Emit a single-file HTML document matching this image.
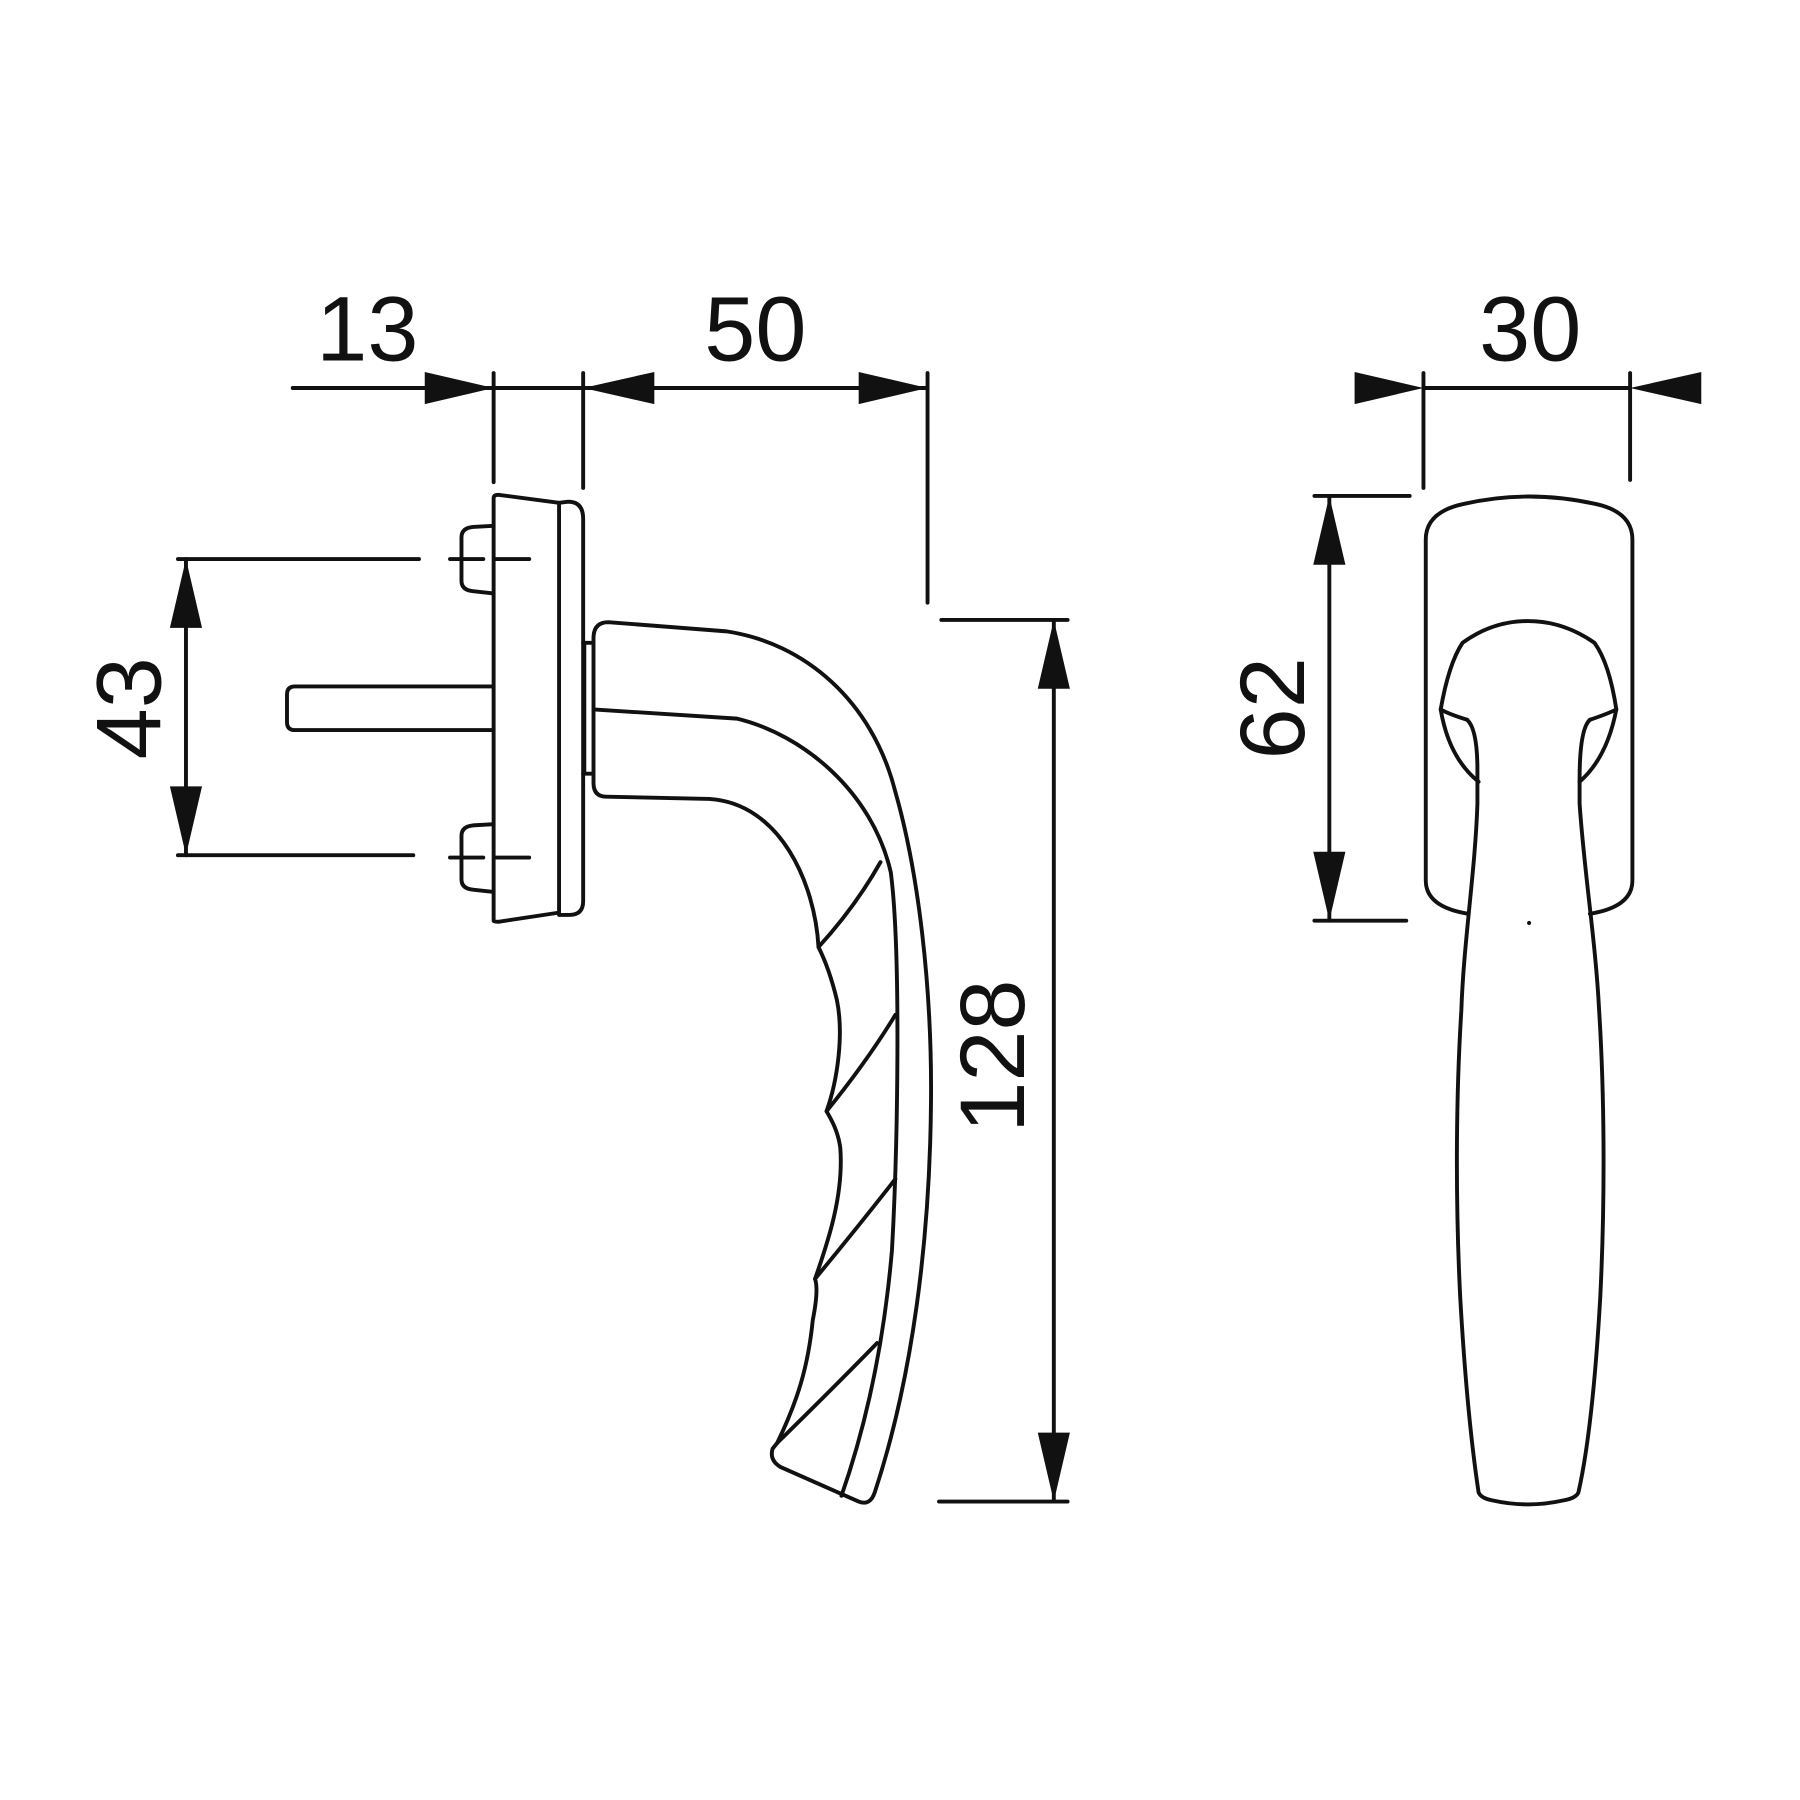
<!DOCTYPE html>
<html><head><meta charset="utf-8"><style>
html,body{margin:0;padding:0;background:#fff;}
svg{display:block;}
text{font-family:"Liberation Sans",Arial,sans-serif;font-size:80px;fill:#111;}
</style></head><body>
<svg width="1800" height="1800" viewBox="0 0 1568 1568" xmlns="http://www.w3.org/2000/svg">
<g fill="none" stroke="#111" stroke-width="3.4" stroke-linejoin="round" stroke-linecap="round">
<!-- dimension lines -->
<line x1="255" y1="338" x2="808" y2="338"/>
<line x1="430" y1="325" x2="430" y2="420"/>
<line x1="508" y1="325" x2="508" y2="425"/>
<line x1="808" y1="325" x2="808" y2="525"/>
<line x1="1240" y1="338" x2="1420" y2="338"/>
<line x1="1240" y1="325" x2="1240" y2="425"/>
<line x1="1420" y1="325" x2="1420" y2="418"/>
<line x1="162" y1="487" x2="162" y2="745"/>
<line x1="155" y1="487" x2="365" y2="487"/>
<line x1="155" y1="745" x2="360" y2="745"/>
<line x1="918" y1="540" x2="918" y2="1308"/>
<line x1="820" y1="540" x2="930" y2="540"/>
<line x1="818" y1="1308" x2="930" y2="1308"/>
<line x1="1158" y1="432" x2="1158" y2="802"/>
<line x1="1145" y1="432" x2="1228" y2="432"/>
<line x1="1145" y1="802" x2="1225" y2="802"/>

<!-- screw dashes -->
<line x1="392" y1="487" x2="421" y2="487"/>
<line x1="432" y1="487" x2="461" y2="487"/>
<line x1="392" y1="747" x2="421" y2="747"/>
<line x1="432" y1="747" x2="461" y2="747"/>

<!-- rosette left view -->
<path d="M430,802 L430,434 Q430,431 434,431 L487,438 L487,795 L434,803 Q430,803 430,802 Z"/>
<path d="M487,438 L495,437 Q508,437 508,452 L508,785 Q508,797 496,797 L487,797"/>
<!-- screws -->
<path d="M430,458 L412,459 Q402,460 402,468 L402,506 Q402,514 412,515 L430,517"/>
<path d="M430,718 L412,719 Q402,720 402,728 L402,766 Q402,774 412,775 L430,777"/>
<!-- spindle -->
<path d="M430,598 L257,598 Q250,598 250,605 L250,629 Q250,636 257,636 L430,636"/>
<!-- collar -->
<path d="M508,560 L517,560 M508,674 L517,674 M509,560 L509,674"/>
<!-- handle left view -->
<path d="M517,556 Q517,542 530,542 L633,550 C700,560 760,610 780,690 C800,760 812,860 811,960 C810,1080 795,1200 762,1300 Q758,1312 748,1308 L680,1278 Q670,1272 673,1262 L677,1257 C695,1220 704,1190 708,1150 C712,1130 712,1120 710,1114 C722,1080 735,1040 732,1000 C730,985 724,975 720,968 C730,940 735,900 729,871 C724,850 718,835 713,825 C710,770 680,700 618,696 L528,694 Q517,694 517,682 Z"/>
<path d="M517,618 L642,626 C700,640 760,690 776,760 C785,830 782,1000 777,1089 C770,1170 755,1240 733,1303"/>
<path d="M713,825 Q745,790 767,751"/>
<path d="M720,968 Q755,925 780,884"/>
<path d="M710,1114 Q748,1068 780,1027"/>
<path d="M677,1257 Q725,1210 764,1170"/>

<!-- right view rosette -->
<path d="M1279,796 Q1242,790 1242,767 L1242,470 Q1242,446 1275,439 Q1331,426 1390,439 Q1422,446 1422,470 L1422,767 Q1422,790 1385,796"/>
<!-- right view handle -->
<path d="M1278,627 Q1262,622 1255,618 Q1262,578 1274,560 Q1300,541 1331,541 Q1362,541 1389,560 Q1402,578 1408,618 Q1400,622 1385,627"/>
<path d="M1255,618 Q1262,660 1288,681"/>
<path d="M1408,618 Q1400,660 1376,681"/>
<path d="M1278,627 Q1287,635 1287,671 L1287,700 C1285,760 1275,820 1273,880 C1268,960 1268,1050 1272,1130 C1276,1200 1282,1260 1288,1300 Q1290,1305 1300,1307 Q1331,1314 1362,1307 Q1373,1305 1375,1300 C1384,1260 1390,1200 1394,1130 C1398,1050 1398,960 1393,880 C1390,820 1380,760 1376,700 L1376,679 Q1376,635 1385,627"/>
</g>
<circle cx="1332" cy="804" r="1.8" fill="#111"/>
<!-- arrowheads -->
<g fill="#111">
<polygon points="430,338 370,324 370,352"/>
<polygon points="508,338 570,324 570,352"/>
<polygon points="808,338 748,324 748,352"/>
<polygon points="1240,338 1180,324 1180,352"/>
<polygon points="1420,338 1482,324 1482,352"/>
<polygon points="162,487 148,547 176,547"/>
<polygon points="162,745 148,685 176,685"/>
<polygon points="918,540 904,600 932,600"/>
<polygon points="918,1308 904,1248 932,1248"/>
<polygon points="1158,432 1144,492 1172,492"/>
<polygon points="1158,802 1144,742 1172,742"/>
</g>
<!-- labels -->
<text x="320" y="314" text-anchor="middle">13</text>
<text x="658" y="314" text-anchor="middle">50</text>
<text x="1333" y="314" text-anchor="middle">30</text>
<text transform="translate(140,617) rotate(-90)" text-anchor="middle">43</text>
<text transform="translate(892,920) rotate(-90)" text-anchor="middle">128</text>
<text transform="translate(1136,617) rotate(-90)" text-anchor="middle">62</text>
</svg>
</body></html>
